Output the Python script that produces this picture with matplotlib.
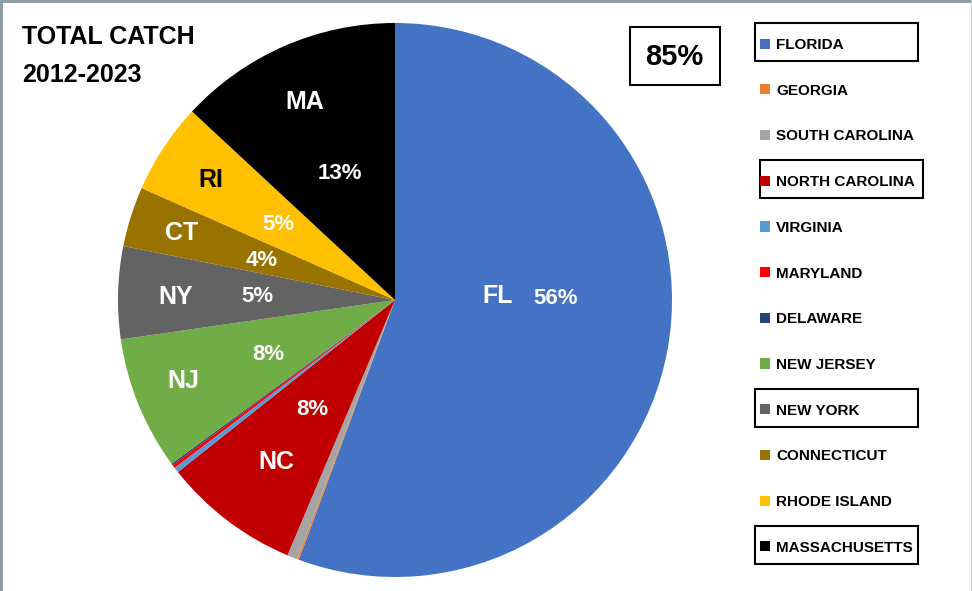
import matplotlib
matplotlib.use("Agg")
import matplotlib.pyplot as plt
from matplotlib.patches import Rectangle

plt.rcParams['font.family'] = ['Liberation Sans', 'DejaVu Sans']
plt.rcParams['font.weight'] = 'bold'

# data (share of total catch, %)
states = ["FLORIDA", "GEORGIA", "SOUTH CAROLINA", "NORTH CAROLINA", "VIRGINIA",
          "MARYLAND", "DELAWARE", "NEW JERSEY", "NEW YORK", "CONNECTICUT",
          "RHODE ISLAND", "MASSACHUSETTS"]
abbr = ["FL", "", "", "NC", "", "", "", "NJ", "NY", "CT", "RI", "MA"]
share = [55.7, 0.1, 0.6, 8.0, 0.3, 0.2, 0.1, 7.8, 5.4, 3.5, 5.3, 13.1]
pct_labels = ["56%", "", "", "8%", "", "", "", "8%", "5%", "4%", "5%", "13%"]
colors = ["#4472C4", "#ED7D31", "#A5A5A5", "#C00000", "#5B9BD5", "#FF0000",
          "#264478", "#70AD47", "#636363", "#997300", "#FFC000", "#000000"]
boxed = ["FLORIDA", "NORTH CAROLINA", "NEW YORK", "MASSACHUSETTS"]

# where the labels sit inside the pie (axes data coords)
name_pos = [(0.372, 0.014), None, None, (-0.43, -0.585), None, None, None,
            (-0.765, -0.292), (-0.791, 0.011), (-0.769, 0.242), (-0.664, 0.433),
            (-0.325, 0.715)]
pct_pos = [(0.578, 0.004), None, None, (-0.30, -0.397), None, None, None,
           (-0.458, -0.195), (-0.498, 0.011), (-0.48, 0.144), (-0.422, 0.271),
           (-0.199, 0.458)]
name_colors = ["white"] * 10 + ["black", "white"]

W, H = 972, 591
fig = plt.figure(figsize=(W / 100, H / 100), dpi=100)

cx, cy, r = 395, 300, 277
ax = fig.add_axes([(cx - r) / W, (H - cy - r) / H, 2 * r / W, 2 * r / H])
wedges, _ = ax.pie(share, colors=colors, startangle=90, counterclock=False,
                   radius=1, wedgeprops=dict(edgecolor='none'))
ax.set_xlim(-1, 1)
ax.set_ylim(-1, 1)
ax.set_aspect('equal')
ax.axis('off')

for i in range(len(states)):
    if name_pos[i] is not None:
        ax.text(*name_pos[i], abbr[i], color=name_colors[i], fontsize=18,
                fontweight='bold', ha='center', va='center')
    if pct_pos[i] is not None:
        ax.text(*pct_pos[i], pct_labels[i], color='white', fontsize=16,
                fontweight='bold', ha='center', va='center')

# title
fig.text(22 / W, 1 - 37 / H, "TOTAL CATCH", fontsize=18, fontweight='bold',
         ha='left', va='center')
fig.text(22 / W, 1 - 75 / H, "2012-2023", fontsize=18, fontweight='bold',
         ha='left', va='center')

# 85% box
fig.patches.append(Rectangle((630 / W, 1 - 85 / H), 90 / W, 58 / H,
                             transform=fig.transFigure, fill=False,
                             edgecolor='black', linewidth=1.5))
fig.text(674 / W, 1 - 57 / H, "85%", fontsize=21, fontweight='bold',
         ha='center', va='center')

# legend
leg = fig.legend(wedges, states, loc='upper left',
                 bbox_to_anchor=(760 / W, 1 - 38 / H), frameon=False,
                 fontsize=11, handlelength=0.65, handleheight=0.65,
                 handletextpad=0.4, labelspacing=2.075, borderpad=0,
                 borderaxespad=0)

# boxes drawn around selected legend entries
fig.canvas.draw()
inv = fig.transFigure.inverted()
for txt in leg.get_texts():
    if txt.get_text() in boxed:
        bb = txt.get_window_extent()
        y0 = inv.transform((0, bb.y0))[1]
        y1 = inv.transform((0, bb.y1))[1]
        ymid = (y0 + y1) / 2
        x0 = 755 if txt.get_text() != "NORTH CAROLINA" else 760
        fig.patches.append(Rectangle((x0 / W, ymid - 16 / H), 163 / W, 38 / H,
                                     transform=fig.transFigure, fill=False,
                                     edgecolor='black', linewidth=1.5))

# screenshot frame on the top and left
fig.patches.append(Rectangle((0, 1 - 3 / H), 1, 3 / H, transform=fig.transFigure,
                             color='#8c9ea3', linewidth=0))
fig.patches.append(Rectangle((0, 0), 3 / W, 1, transform=fig.transFigure,
                             color='#8c9ea3', linewidth=0))
fig.patches.append(Rectangle((1 - 1.5 / W, 0), 1.5 / W, 1, transform=fig.transFigure,
                             color='#d0d0d0', linewidth=0))

fig.savefig("out.png", dpi=100)
